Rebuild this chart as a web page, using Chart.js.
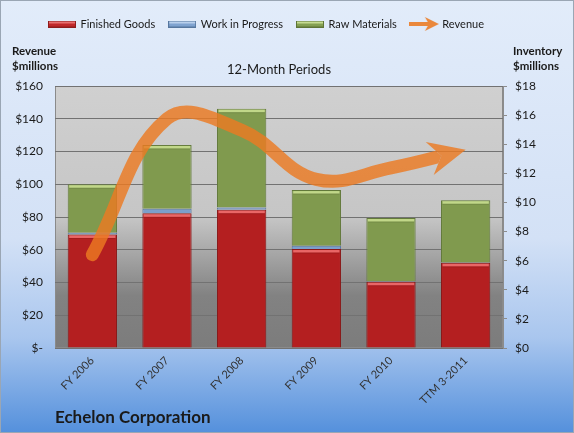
<!DOCTYPE html>
<html><head><meta charset="utf-8">
<script src="https://cdn.jsdelivr.net/npm/chart.js@4.4.0/dist/chart.umd.min.js"></script>
<style>html,body{margin:0;padding:0;background:#fff;}#wrap{width:574px;height:433px;position:relative;}</style>
</head><body><div id="wrap"><canvas id="c" width="574" height="433"></canvas></div>
<script>
// ---- data ----
const categories = ['FY 2006', 'FY 2007', 'FY 2008', 'FY 2009', 'FY 2010', 'TTM 3-2011'];
const finishedGoods = [7.8, 9.25, 9.5, 6.8, 4.55, 5.85];      // inventory, $M (right axis)
const workInProgress = [0.12, 0.32, 0.15, 0.23, 0.04, 0.03];
const rawMaterials = [3.33, 4.38, 6.79, 3.82, 4.34, 4.27];
const revenue = [57, 140, 133, 103, 110, 121];                 // $M (left axis)
const revenueTickStep = 20, revenueMax = 160;
const inventoryTickStep = 2, inventoryMax = 18;
const seriesNames = ['Finished Goods', 'Work in Progress', 'Raw Materials', 'Revenue'];

const FONT = 'Lato, "Liberation Sans", sans-serif';
const LINE_COLOR = 'rgba(236,122,34,0.82)';

function makeSwatch(fill, light, border) {
  const c = document.createElement('canvas'); c.width = 28; c.height = 7;
  const g = c.getContext('2d');
  g.fillStyle = fill; g.fillRect(0, 0, 28, 7);
  g.fillStyle = light; g.fillRect(1, 1, 26, 2);
  g.strokeStyle = border; g.lineWidth = 1; g.strokeRect(0.5, 0.5, 27, 6);
  return c;
}
function makeArrowIcon() {
  const c = document.createElement('canvas'); c.width = 30; c.height = 14;
  const g = c.getContext('2d'); g.fillStyle = 'rgba(234,136,60,1)';
  g.fillRect(0, 5, 20, 4);
  g.beginPath(); g.moveTo(16, 0); g.lineTo(30, 7); g.lineTo(16, 14); g.lineTo(20, 7); g.closePath(); g.fill();
  return c;
}
const legendIcons = [
  makeSwatch('#C0282A', '#E87070', '#8E1C1C'),
  makeSwatch('#7FA3D0', '#B9D0EC', '#56779F'),
  makeSwatch('#84A052', '#C6DC92', '#5E7536'),
  makeArrowIcon()
];

const bgPlugin = {
  id: 'bg',
  beforeDraw(chart) {
    const { ctx, width, height, chartArea: a } = chart;
    ctx.save();
    const g = ctx.createLinearGradient(0, 0, 0, height);
    g.addColorStop(0, '#E2ECFA'); g.addColorStop(0.55, '#D3E1F6');
    g.addColorStop(0.78, '#A9C6EE'); g.addColorStop(1, '#5490DC');
    ctx.fillStyle = g; ctx.fillRect(0, 0, width, height);
    ctx.strokeStyle = '#9AA6B4'; ctx.lineWidth = 1; ctx.strokeRect(0.5, 0.5, width - 1, height - 1);
    const p = ctx.createLinearGradient(0, a.top, 0, a.bottom);
    p.addColorStop(0, '#D0D0D0'); p.addColorStop(0.5, '#C6C6C6');
    p.addColorStop(0.8, '#828282'); p.addColorStop(1, '#7C7C7C');
    ctx.fillStyle = p; ctx.fillRect(a.left, a.top, a.right - a.left, a.bottom - a.top);
    ctx.strokeStyle = '#8A8A8A'; ctx.strokeRect(a.left + 0.5, a.top + 0.5, a.right - a.left - 1, a.bottom - a.top - 1);
    ctx.restore();
  },
  beforeLayout(chart) {
    const lg = chart.legend;
    if (lg && !lg._fixed) {
      const orig = lg.fit.bind(lg);
      lg.fit = function () { orig(); this.height = 86; };
      lg._fixed = true;
    }
  },
  afterLayout(chart) {
    if (chart.legend) { chart.legend.left = 35; chart.legend.right = 574; chart.legend.top = 4.5; }
  }
};

const textPlugin = {
  id: 'texts',
  afterDraw(chart) {
    const { ctx, chartArea: a } = chart;
    ctx.save();
    ctx.fillStyle = '#1A1A1A';
    ctx.textBaseline = 'alphabetic';
    ctx.font = '13px ' + FONT; ctx.textAlign = 'center';
    ctx.fillText('12-Month Periods', (a.left + a.right) / 2, a.top - 12);
    ctx.font = 'bold 11.5px ' + FONT; ctx.textAlign = 'left';
    ctx.fillText('Revenue', 12, 55);
    ctx.fillText('$millions', 12, 70);
    ctx.fillText('Inventory', 513, 55);
    ctx.fillText('$millions', 513, 70);
    ctx.font = 'bold 17px ' + FONT;
    ctx.fillText('Echelon Corporation', 55, 423);
    ctx.restore();
  }
};

function arrowGeom(meta) {
  const pts = meta.data, last = pts[pts.length - 1], prev = pts[pts.length - 2];
  let dx = last.x - (last.cp1x ?? prev.x), dy = last.y - (last.cp1y ?? prev.y);
  const len = Math.hypot(dx, dy) || 1; dx /= len; dy /= len;
  const L = 37, H = 17, N = 12;
  const nx = -dy, ny = dx;
  const bx = last.x - dx * L, by = last.y - dy * L;
  return {
    tip: [last.x, last.y],
    b1: [bx + nx * H, by + ny * H],
    b2: [bx - nx * H, by - ny * H],
    notch: [bx + dx * N, by + dy * N],
    dx, dy
  };
}

const arrowPlugin = {
  id: 'arrow',
  beforeDatasetDraw(chart, args) {
    if (args.meta.type !== 'line') return;
    const { ctx, width, height } = chart;
    const g = arrowGeom(args.meta);
    ctx.save();
    ctx.beginPath();
    ctx.rect(0, 0, width, height);
    ctx.moveTo(...g.b1);
    ctx.lineTo(...g.notch);
    ctx.lineTo(...g.b2);
    ctx.lineTo(g.b2[0] + g.dx * 120, g.b2[1] + g.dy * 120);
    ctx.lineTo(g.b1[0] + g.dx * 120, g.b1[1] + g.dy * 120);
    ctx.closePath();
    ctx.clip('evenodd');
  },
  afterDatasetDraw(chart, args) {
    const { ctx } = chart;
    if (args.meta.type === 'line') {
      ctx.restore();
      const g = arrowGeom(args.meta);
      ctx.save();
      ctx.fillStyle = LINE_COLOR;
      ctx.beginPath();
      ctx.moveTo(...g.tip); ctx.lineTo(...g.b1); ctx.lineTo(...g.notch); ctx.lineTo(...g.b2); ctx.closePath();
      ctx.fill();
      ctx.restore();
      return;
    }
    // bevel highlight on top of each bar segment
    const lights = ['rgba(238,110,110,0.9)', 'rgba(200,220,245,0.9)', 'rgba(196,218,140,0.95)'];
    const light = lights[args.index];
    ctx.save();
    args.meta.data.forEach(el => {
      const p = el.getProps(['x', 'y', 'base', 'width'], true);
      const top = Math.min(p.y, p.base), h = Math.abs(p.base - p.y);
      if (h < 5) return;
      ctx.fillStyle = light;
      ctx.fillRect(p.x - p.width / 2 + 1.5, top + 1, p.width - 3, 2.5);
      ctx.fillStyle = 'rgba(0,0,0,0.10)';
      ctx.fillRect(p.x - p.width / 2 + 1.5, top + 3.5, p.width - 3, 1);
    });
    ctx.restore();
  }
};

const barCommon = { yAxisID: 'yInv', order: 1, borderWidth: 1, barPercentage: 0.66, categoryPercentage: 1 };

new Chart(document.getElementById('c'), {
  data: {
    labels: categories,
    datasets: [
      { type: 'bar', label: seriesNames[0], data: finishedGoods, backgroundColor: '#B41F20', borderColor: '#8A1818', ...barCommon },
      { type: 'bar', label: seriesNames[1], data: workInProgress, backgroundColor: '#7C9FCB', borderColor: '#5A7AA2', ...barCommon },
      { type: 'bar', label: seriesNames[2], data: rawMaterials, backgroundColor: '#809A4E', borderColor: '#62793A', ...barCommon },
      { type: 'line', label: seriesNames[3], data: revenue, yAxisID: 'yRev', order: 0,
        borderColor: LINE_COLOR, borderWidth: 13, borderCapStyle: 'round', borderJoinStyle: 'round',
        tension: 0.4, pointRadius: 0, fill: false }
    ]
  },
  options: {
    responsive: false,
    devicePixelRatio: 1,
    animation: false,
    layout: { padding: 0 },
    font: { family: FONT },
    scales: {
      x: {
        stacked: true,
        grid: { display: false, drawTicks: false },
        border: { display: false },
        ticks: { color: '#333', font: { size: 11, family: FONT }, minRotation: 45, maxRotation: 45, autoSkip: false, padding: 6 },
        afterFit(s) { s.height = 85; }
      },
      yRev: {
        position: 'left', min: 0, max: revenueMax,
        grid: { color: '#727272', lineWidth: 1, drawTicks: false },
        border: { display: false },
        ticks: { stepSize: revenueTickStep, color: '#1A1A1A', padding: 12, font: { size: 12, family: FONT },
          callback: v => v === 0 ? '$-' : '$' + v },
        afterFit(s) { s.width = 55; }
      },
      yInv: {
        position: 'right', stacked: true, min: 0, max: inventoryMax,
        grid: { drawOnChartArea: false, drawTicks: true, tickLength: 4, color: '#8C8C8C' },
        border: { display: true, color: '#8C8C8C' },
        ticks: { stepSize: inventoryTickStep, color: '#1A1A1A', padding: 8, font: { size: 12, family: FONT },
          callback: v => '$' + v },
        afterFit(s) { s.width = 71; }
      }
    },
    plugins: {
      tooltip: { enabled: false },
      title: { display: false },
      legend: {
        position: 'top', align: 'start',
        labels: {
          usePointStyle: true, pointStyleWidth: 26, padding: 14,
          color: '#1A1A1A', font: { size: 11, family: FONT },
          generateLabels: (chart) => chart.data.datasets.map((ds, i) => ({
            text: ds.label, pointStyle: legendIcons[i], fillStyle: 'transparent', strokeStyle: 'transparent',
            lineWidth: 0, hidden: false, datasetIndex: i, fontColor: '#1A1A1A'
          })),
          sort: (a, b) => a.datasetIndex - b.datasetIndex
        }
      }
    }
  },
  plugins: [bgPlugin, textPlugin, arrowPlugin]
});
</script></body></html>
